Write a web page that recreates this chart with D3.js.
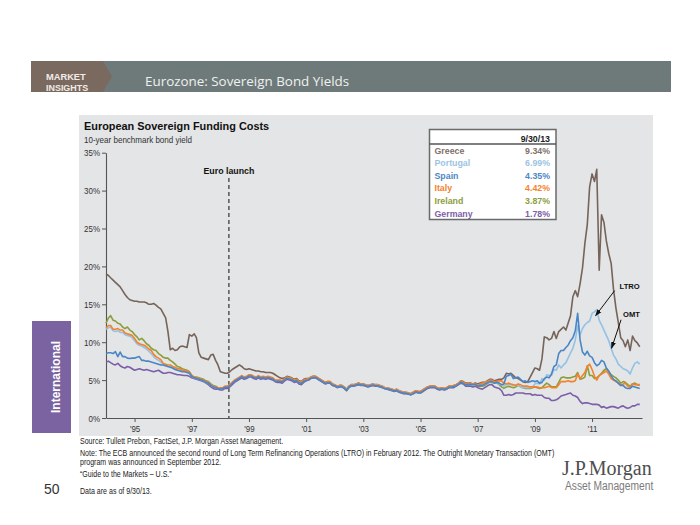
<!DOCTYPE html>
<html><head><meta charset="utf-8">
<script src="https://cdn.jsdelivr.net/npm/d3@7"></script>
<style>body{margin:0;background:#fff;}svg{display:block;}</style>
</head><body>
<svg id="c" width="700" height="525"></svg>
<script>
// ---------------- DATA ----------------
const seriesNames = ["Greece","Portugal","Spain","Italy","Ireland","Germany"];
const asOfLabel = "9/30/13";
const asOfValues = ["9.34%","6.99%","4.35%","4.42%","3.87%","1.78%"];
const yTicks = [0,5,10,15,20,25,30,35];
const xTickYears = [1995,1997,1999,2001,2003,2005,2007,2009,2011];
const xTickLabels = ["'95","'97","'99","'01","'03","'05","'07","'09","'11"];
const startMonth = "1995-01", endMonth = "2013-09";
const euroLaunchDate = "1999-04-20";
const annotations = [
  {label:"LTRO", date:"2012-02-15", value:13.5},
  {label:"OMT",  date:"2012-09-06", value:9.2}
];

const greece = [
19.0,18.8,18.5,18.2,17.9,17.6,17.3,16.8,16.3,15.9,15.6,15.5,
15.4,15.4,15.3,15.3,15.3,15.2,15.0,15.0,15.1,14.9,14.6,14.4,
13.8,13.2,11.5,9.0,9.2,8.9,9.0,9.4,9.5,9.4,9.3,11.0,
10.8,11.1,10.6,8.6,8.0,7.9,7.8,7.7,8.3,8.4,7.6,7.0,
6.1,6.0,5.9,5.9,6.1,6.4,6.6,6.8,7.0,6.8,6.5,6.4,
6.5,6.4,6.3,6.2,6.2,6.1,6.1,6.0,6.0,6.0,5.9,5.7,
5.5,5.3,5.2,5.3,5.5,5.4,5.3,5.1,5.2,4.9,4.8,5.1,
5.2,5.2,5.4,5.5,5.5,5.3,5.1,4.9,4.7,4.8,4.8,4.5,
4.4,4.2,4.3,4.3,4.1,3.8,4.2,4.4,4.4,4.5,4.6,4.5,
4.5,4.4,4.3,4.4,4.5,4.4,4.4,4.3,4.2,4.0,4.0,3.9,
3.8,3.7,3.8,3.6,3.5,3.4,3.4,3.3,3.2,3.4,3.6,3.5,
3.5,3.7,3.9,4.1,4.2,4.2,4.2,4.0,3.9,4.0,3.9,4.0,
4.2,4.2,4.3,4.4,4.6,4.9,4.8,4.6,4.6,4.6,4.5,4.6,
4.5,4.6,4.7,4.7,4.9,5.1,5.1,4.9,5.0,5.1,5.1,5.3,
5.9,5.8,5.9,5.6,5.3,5.2,5.0,4.8,4.7,4.8,5.4,6.0,
6.6,6.5,6.3,7.8,10.7,10.6,10.3,10.5,11.4,10.5,11.4,11.7,
12.0,11.6,12.5,13.5,16.0,16.8,16.0,17.7,19.8,23.0,25.5,30.5,
32.2,31.2,32.8,19.5,26.8,25.8,23.4,21.7,20.4,17.0,14.5,12.6,
10.6,10.2,9.4,10.3,8.9,10.8,10.2,9.9,9.4];

const portugal = [
11.7,11.9,12.0,11.5,11.4,11.5,11.3,11.3,11.0,10.9,10.8,10.6,
10.2,9.8,9.6,9.5,9.3,9.1,8.8,8.5,8.1,7.8,7.6,7.4,
7.0,6.9,6.8,6.8,6.6,6.5,6.3,6.3,6.2,6.2,6.1,5.9,
5.5,5.3,5.2,5.1,5.0,4.9,4.7,4.6,4.3,4.1,4.0,3.9,
3.95,3.95,4.15,4.15,4.35,4.65,4.95,5.15,5.35,5.55,5.35,5.45,
5.65,5.65,5.45,5.35,5.55,5.35,5.45,5.35,5.45,5.35,5.25,4.95,
4.95,4.95,4.85,5.15,5.35,5.25,5.15,4.95,5.05,4.75,4.65,4.95,
5.05,5.15,5.35,5.45,5.45,5.25,5.05,4.85,4.65,4.75,4.75,4.45,
4.35,4.15,4.25,4.25,4.05,3.75,4.15,4.35,4.35,4.45,4.55,4.45,
4.45,4.35,4.25,4.35,4.45,4.35,4.35,4.25,4.15,3.95,3.95,3.85,
3.75,3.65,3.75,3.55,3.45,3.35,3.35,3.25,3.15,3.35,3.55,3.45,
3.45,3.65,3.85,4.05,4.15,4.15,4.15,3.95,3.85,3.95,3.85,3.95,
4.15,4.15,4.25,4.35,4.55,4.85,4.65,4.45,4.55,4.45,4.45,4.5,
4.3,4.4,4.4,4.5,4.6,4.8,4.8,4.6,4.6,4.5,4.4,4.2,
4.4,4.5,4.4,4.3,4.3,4.3,4.1,4.0,4.0,4.0,4.0,4.1,
4.5,4.6,4.5,5.2,5.0,5.7,5.6,5.6,6.4,6.3,7.0,6.6,
7.0,7.3,7.9,8.6,9.2,10.3,12.2,11.0,11.8,12.3,12.6,12.8,
13.8,14.0,14.3,12.9,12.3,11.6,10.9,10.2,9.2,8.3,7.8,7.1,
6.8,6.5,6.4,6.2,5.8,6.6,7.2,7.4,7.1];

const spain = [
8.5,8.6,8.6,8.5,8.75,8.1,8.7,8.1,8.1,7.9,7.85,7.9,
7.9,8.0,8.1,7.6,7.6,7.5,7.5,7.4,7.3,7.2,7.1,7.0,
7.0,6.9,6.8,6.7,6.6,6.4,6.3,6.2,6.1,6.1,6.0,5.9,
5.5,5.3,5.2,5.1,5.0,4.9,4.7,4.6,4.3,4.1,4.0,3.9,
3.85,3.9,4.05,4.05,4.25,4.55,4.85,5.05,5.25,5.45,5.25,5.35,
5.55,5.55,5.35,5.25,5.45,5.25,5.35,5.25,5.35,5.25,5.15,4.85,
4.85,4.85,4.75,5.05,5.25,5.15,5.05,4.85,4.95,4.65,4.55,4.85,
4.95,5.05,5.25,5.35,5.35,5.15,4.95,4.75,4.55,4.65,4.65,4.35,
4.25,4.05,4.15,4.15,3.95,3.65,4.05,4.25,4.25,4.35,4.45,4.35,
4.35,4.25,4.15,4.25,4.35,4.25,4.25,4.15,4.05,3.85,3.85,3.75,
3.65,3.55,3.65,3.45,3.35,3.25,3.25,3.15,3.05,3.25,3.45,3.35,
3.35,3.55,3.75,3.95,4.05,4.05,4.05,3.85,3.75,3.85,3.75,3.85,
4.05,4.05,4.15,4.25,4.45,4.75,4.55,4.35,4.45,4.4,4.4,4.45,
4.2,4.3,4.3,4.5,4.6,4.8,4.8,4.6,4.7,4.6,4.4,4.5,
5.5,5.6,5.8,5.2,5.3,5.4,5.1,4.8,4.9,4.7,4.8,4.9,
4.8,4.9,4.6,4.7,5.2,5.4,5.3,5.8,6.8,7.0,8.5,8.9,
8.9,9.3,9.6,10.2,10.6,11.5,13.8,10.3,8.7,8.3,8.8,8.2,
8.0,7.3,6.9,7.1,7.6,7.4,6.6,6.2,5.6,5.1,4.9,4.6,
4.3,4.3,4.0,3.9,3.9,4.2,4.1,4.0,3.9];

const italy = [
11.9,12.2,12.2,11.7,11.7,11.8,11.6,11.6,11.2,11.1,11.0,10.9,
10.5,10.0,9.8,9.7,9.6,9.4,9.1,8.9,8.4,8.1,7.9,7.7,
7.2,7.1,7.0,7.0,6.8,6.7,6.5,6.5,6.3,6.3,6.2,6.0,
5.6,5.4,5.3,5.2,5.1,5.0,4.8,4.7,4.4,4.2,4.1,3.9,
4.0,4.0,4.2,4.2,4.4,4.7,5.0,5.2,5.4,5.6,5.4,5.5,
5.7,5.7,5.5,5.4,5.6,5.4,5.5,5.4,5.5,5.4,5.3,5.0,
5.0,5.0,4.9,5.2,5.4,5.3,5.2,5.0,5.1,4.8,4.7,5.0,
5.1,5.2,5.4,5.5,5.5,5.3,5.1,4.9,4.7,4.8,4.8,4.5,
4.35,4.15,4.25,4.25,4.05,3.75,4.15,4.35,4.35,4.45,4.55,4.45,
4.45,4.35,4.25,4.35,4.45,4.35,4.35,4.25,4.15,3.95,3.95,3.85,
3.75,3.65,3.75,3.55,3.45,3.35,3.35,3.25,3.2,3.4,3.6,3.5,
3.5,3.7,3.9,4.1,4.2,4.2,4.2,4.0,3.9,4.0,3.9,4.0,
4.2,4.2,4.3,4.4,4.6,4.9,4.7,4.5,4.6,4.5,4.5,4.5,
4.3,4.5,4.6,4.7,4.8,5.0,5.0,4.8,4.8,4.9,4.9,4.6,
4.5,4.6,4.5,4.4,4.3,4.5,4.4,4.2,4.2,4.2,4.1,4.1,
4.1,4.1,4.0,4.0,4.0,4.1,4.2,4.0,4.0,4.0,4.4,4.8,
4.8,4.8,4.9,4.8,4.8,4.9,5.8,5.2,5.6,6.0,6.8,7.1,
6.4,5.5,5.0,5.6,5.8,6.0,6.2,5.8,5.2,5.0,4.8,4.6,
4.3,4.5,4.6,4.2,4.0,4.5,4.4,4.4,4.4];

const ireland = [
12.5,13.2,13.5,12.9,12.8,12.5,12.4,12.0,11.8,12.0,11.6,11.4,
11.0,10.7,10.3,10.5,10.2,9.8,9.6,9.2,9.0,8.9,8.5,8.3,
8.0,7.9,7.9,7.6,7.4,7.1,6.8,6.7,6.5,6.4,6.3,6.1,
5.6,5.4,5.4,5.3,5.2,5.1,4.9,4.8,4.5,4.3,4.2,4.0,
3.9,3.9,4.1,4.1,4.3,4.6,4.9,5.1,5.3,5.5,5.3,5.4,
5.6,5.6,5.4,5.3,5.5,5.3,5.4,5.3,5.4,5.3,5.2,4.9,
4.9,4.9,4.8,5.1,5.3,5.2,5.1,4.9,5.0,4.7,4.6,4.9,
5.0,5.1,5.3,5.4,5.4,5.2,5.0,4.8,4.6,4.7,4.7,4.4,
4.3,4.1,4.2,4.2,4.0,3.7,4.1,4.3,4.3,4.4,4.5,4.4,
4.4,4.3,4.2,4.3,4.4,4.3,4.3,4.2,4.1,3.9,3.9,3.8,
3.7,3.6,3.7,3.5,3.4,3.3,3.3,3.2,3.1,3.3,3.5,3.4,
3.4,3.6,3.8,4.0,4.1,4.1,4.1,3.9,3.8,3.9,3.8,3.9,
4.1,4.1,4.2,4.3,4.5,4.8,4.6,4.4,4.5,4.4,4.4,4.4,
4.2,4.2,4.2,4.3,4.5,4.8,4.7,4.6,4.6,4.4,4.1,3.9,
4.1,4.2,4.1,4.0,4.1,4.3,4.1,4.0,3.9,3.9,3.9,4.0,
4.1,4.0,3.9,4.0,4.3,4.6,4.4,4.1,4.1,4.1,4.7,5.3,
5.4,5.3,5.3,5.3,5.4,5.5,6.0,5.1,5.2,5.4,6.9,5.6,
5.6,5.2,5.3,5.6,5.9,6.3,6.5,6.1,5.7,5.5,5.3,5.0,
4.6,4.8,4.7,4.4,4.2,4.5,4.6,4.4,4.3];

const germany = [
7.4,7.5,7.3,7.1,7.0,7.2,6.9,6.7,6.6,6.8,6.7,6.5,
6.3,6.4,6.5,6.4,6.3,6.4,6.3,6.2,6.1,6.2,6.3,6.1,
5.9,5.9,6.0,6.0,5.9,5.8,5.7,5.7,5.65,5.6,5.6,5.5,
5.3,5.2,5.1,5.0,4.9,4.8,4.6,4.4,4.1,3.9,3.8,3.8,
3.7,3.7,3.9,3.9,4.1,4.4,4.7,4.9,5.1,5.3,5.1,5.2,
5.4,5.4,5.2,5.1,5.3,5.1,5.2,5.1,5.2,5.1,5.0,4.8,
4.7,4.7,4.6,4.9,5.1,5.0,4.9,4.7,4.8,4.5,4.4,4.7,
4.9,5.0,5.2,5.3,5.3,5.1,4.9,4.7,4.5,4.6,4.6,4.3,
4.2,4.0,4.1,4.1,3.9,3.6,4.0,4.2,4.2,4.3,4.4,4.3,
4.3,4.2,4.1,4.2,4.3,4.2,4.2,4.1,4.0,3.9,3.8,3.7,
3.6,3.5,3.6,3.4,3.3,3.2,3.2,3.2,3.1,3.2,3.4,3.3,
3.3,3.5,3.7,3.9,4.0,4.0,4.0,3.8,3.7,3.8,3.7,3.8,
4.0,4.0,4.0,4.2,4.4,4.6,4.5,4.2,4.2,4.2,4.1,4.2,
4.0,3.9,3.8,4.0,4.2,4.4,4.4,4.1,4.0,3.9,3.6,3.0,
3.0,3.1,3.0,3.1,3.3,3.3,3.3,3.3,3.2,3.2,3.2,3.0,
3.1,3.0,3.0,3.0,2.7,2.6,2.6,2.3,2.3,2.4,2.6,2.9,
3.0,3.1,3.2,3.3,3.0,2.9,2.7,2.2,1.9,2.0,2.0,1.9,
1.8,1.8,1.8,1.7,1.4,1.5,1.3,1.4,1.5,1.5,1.4,1.3,
1.5,1.6,1.4,1.3,1.4,1.6,1.6,1.8,1.8];

// ---------------- STYLE ----------------
const colors = {Greece:"#76645a", Portugal:"#93c2e6", Spain:"#4a86c5", Italy:"#f5812a", Ireland:"#8b9e3c", Germany:"#7c5fa8"};
const tableColors = {Greece:"#7f716a", Portugal:"#9cc4e2", Spain:"#4d87c3", Italy:"#f5812a", Ireland:"#8b9e3c", Germany:"#7c5fa8"};
const drawOrder = ["Greece","Germany","Ireland","Portugal","Italy","Spain"];
const SANS = "'Liberation Sans', Arial, Helvetica, sans-serif";
const NX = 0.82; // horizontal condensing factor (narrow face emulation)

// ---------------- BUILD ----------------
const valuesByName = {Greece:greece, Portugal:portugal, Spain:spain, Italy:italy, Ireland:ireland, Germany:germany};
const parseM = d3.timeParse("%Y-%m"), parseD = d3.timeParse("%Y-%m-%d");
const dates = d3.timeMonth.range(parseM(startMonth), d3.timeMonth.offset(parseM(endMonth),1));
for (const n of seriesNames) {
  if (valuesByName[n].length !== dates.length) throw new Error(n+" has "+valuesByName[n].length+" values, expected "+dates.length);
}

const svg = d3.select("#c");
svg.append("rect").attr("width",700).attr("height",525).attr("fill","#fff");

function ntext(x, y, str, size, opts={}) {
  const sx = opts.sx || NX;
  const t = svg.append("text").attr("transform",`translate(${x},${y}) scale(${sx},1)`).text(str)
    .attr("font-family",SANS).attr("font-size",size).attr("fill",opts.fill||"#222");
  if (opts.bold) t.attr("font-weight","bold");
  if (opts.anchor) t.attr("text-anchor",opts.anchor);
  return t;
}

// header band
svg.append("rect").attr("x",31).attr("y",61).attr("width",640).attr("height",31).attr("fill","#6e7a79");
svg.append("polygon").attr("points","31,61 103,61 112,76.5 103,92 31,92").attr("fill","#7a695f");
ntext(46, 80, "MARKET", 9.6, {bold:true, fill:"#f1ece8", sx:0.97});
ntext(46, 91, "INSIGHTS", 9.6, {bold:true, fill:"#f1ece8", sx:0.93});
svg.append("text").attr("x",145).attr("y",86).text("Eurozone: Sovereign Bond Yields")
  .attr("font-family","'Open Sans', sans-serif").attr("font-size",13.4).attr("fill","#eef1f0");

// side tab
svg.append("rect").attr("x",32).attr("y",321).attr("width",39).attr("height",112).attr("fill","#7a63a0");
svg.append("text").attr("transform","translate(59.5,377) rotate(-90)").attr("text-anchor","middle")
  .text("International").attr("font-family",SANS).attr("font-weight","bold").attr("font-size",12).attr("fill","#fff");

// chart panel
svg.append("rect").attr("x",79).attr("y",115).attr("width",574).attr("height",321).attr("fill","#e3e5e6");

svg.append("text").attr("x",84).attr("y",130).text("European Sovereign Funding Costs")
  .attr("font-family",SANS).attr("font-weight","bold").attr("font-size",10.9).attr("fill","#111");
ntext(84, 142.5, "10-year benchmark bond yield", 9.8, {fill:"#333"});

const x = d3.scaleTime().domain([parseM(startMonth), parseD("2013-09-30")]).range([106,642]);
const y = d3.scaleLinear().domain([0,35]).range([418,152.7]);

const yAxis = svg.append("g").attr("transform","translate(106,0)")
  .call(d3.axisLeft(y).tickValues(yTicks).tickFormat(d=>d+"%").tickSize(4).tickSizeOuter(0).tickPadding(2));
const tickDates = xTickYears.map(yr => d3.timeYear.offset(new Date(yr,0,1),1)); // year-end ticks
const xAxis = svg.append("g").attr("transform","translate(0,418)")
  .call(d3.axisBottom(x).tickValues(tickDates).tickFormat((d,i)=>xTickLabels[i]).tickSize(4).tickSizeOuter(0).tickPadding(3));
for (const g of [xAxis,yAxis]) {
  g.select(".domain").attr("stroke","#555").attr("stroke-width",1.1);
  g.selectAll(".tick line").attr("stroke","#555").attr("stroke-width",1);
  g.selectAll(".tick text").attr("font-family",SANS).attr("font-size",9.7).attr("fill","#333")
    .attr("transform",`scale(${NX},1)`);
}
yAxis.selectAll(".tick text").attr("x",-6/NX);

// euro launch marker
const xe = x(parseD(euroLaunchDate));
svg.append("line").attr("x1",xe).attr("x2",xe).attr("y1",178).attr("y2",418)
  .attr("stroke","#333").attr("stroke-width",1.2).attr("stroke-dasharray","4,3");
svg.append("text").attr("x",xe).attr("y",174).attr("text-anchor","middle").text("Euro launch")
  .attr("font-family",SANS).attr("font-weight","bold").attr("font-size",8.8).attr("fill","#111");

// series lines
const line = d3.line().x((d,i)=>x(dates[i])).y(d=>y(d));
for (const n of drawOrder) {
  svg.append("path").datum(valuesByName[n]).attr("d",line).attr("fill","none")
    .attr("stroke",colors[n]).attr("stroke-width",1.6).attr("stroke-linejoin","round");
}

// annotations
const defs = svg.append("defs");
defs.append("marker").attr("id","ah").attr("viewBox","0 0 10 10").attr("refX",9).attr("refY",5)
  .attr("markerWidth",7).attr("markerHeight",7).attr("orient","auto")
  .append("path").attr("d","M0,1.5 L10,5 L0,8.5 z").attr("fill","#111");
const annOffsets = {LTRO:{ax:19,ay:-25,tx:24,ty:-26.5}, OMT:{ax:9.5,ay:-28.5,tx:11.5,ty:-30.8}};
for (const a of annotations) {
  const px = x(parseD(a.date)), py = y(a.value), o = annOffsets[a.label];
  svg.append("line").attr("x1",px+o.ax).attr("y1",py+o.ay).attr("x2",px).attr("y2",py)
    .attr("stroke","#111").attr("stroke-width",1).attr("marker-end","url(#ah)");
  svg.append("text").attr("x",px+o.tx).attr("y",py+o.ty).text(a.label)
    .attr("font-family",SANS).attr("font-weight","bold").attr("font-size",7.6).attr("fill","#111");
}

// legend table
const tb = {x:429.5, y:129.5, w:126.5, h:90};
svg.append("rect").attr("x",tb.x).attr("y",tb.y).attr("width",tb.w).attr("height",tb.h)
  .attr("fill","#fff").attr("stroke","#6a6a6a").attr("stroke-width",1.5);
svg.append("text").attr("x",tb.x+tb.w-6).attr("y",tb.y+12).attr("text-anchor","end").text(asOfLabel)
  .attr("font-family",SANS).attr("font-weight","bold").attr("font-size",8.8).attr("fill","#222");
svg.append("line").attr("x1",tb.x).attr("x2",tb.x+tb.w).attr("y1",tb.y+14.5).attr("y2",tb.y+14.5)
  .attr("stroke","#555").attr("stroke-width",1.5);
seriesNames.forEach((n,i)=>{
  const yy = tb.y + 24 + i*12.6;
  svg.append("text").attr("x",tb.x+5).attr("y",yy).text(n)
    .attr("font-family",SANS).attr("font-weight","bold").attr("font-size",8.8).attr("fill",tableColors[n]);
  svg.append("text").attr("x",tb.x+tb.w-6).attr("y",yy).attr("text-anchor","end").text(asOfValues[i])
    .attr("font-family",SANS).attr("font-weight","bold").attr("font-size",8.8).attr("fill",tableColors[n]);
});

// footnotes
const foot = [
  ["Source: Tullett Prebon, FactSet, J.P. Morgan Asset Management.",444],
  ["Note: The ECB announced the second round of Long Term Refinancing Operations (LTRO) in February 2012. The Outright Monetary Transaction (OMT)",455.5],
  ["program was announced in September 2012.",464.5],
  ["“Guide to the Markets – U.S.”",477],
  ["Data are as of 9/30/13.",494]
];
for (const [t,yy] of foot) ntext(80, yy, t, 8.6, {fill:"#222"});
svg.append("text").attr("x",44).attr("y",494).text("50")
  .attr("font-family",SANS).attr("font-size",14).attr("fill","#333");
svg.append("text").attr("x",562).attr("y",475).text("J.P.Morgan")
  .attr("font-family","'Liberation Serif','Times New Roman',serif").attr("font-size",20).attr("fill","#4e4e4e");
ntext(565, 490, "Asset Management", 12.5, {fill:"#7a7a7a"});
</script>
</body></html>
